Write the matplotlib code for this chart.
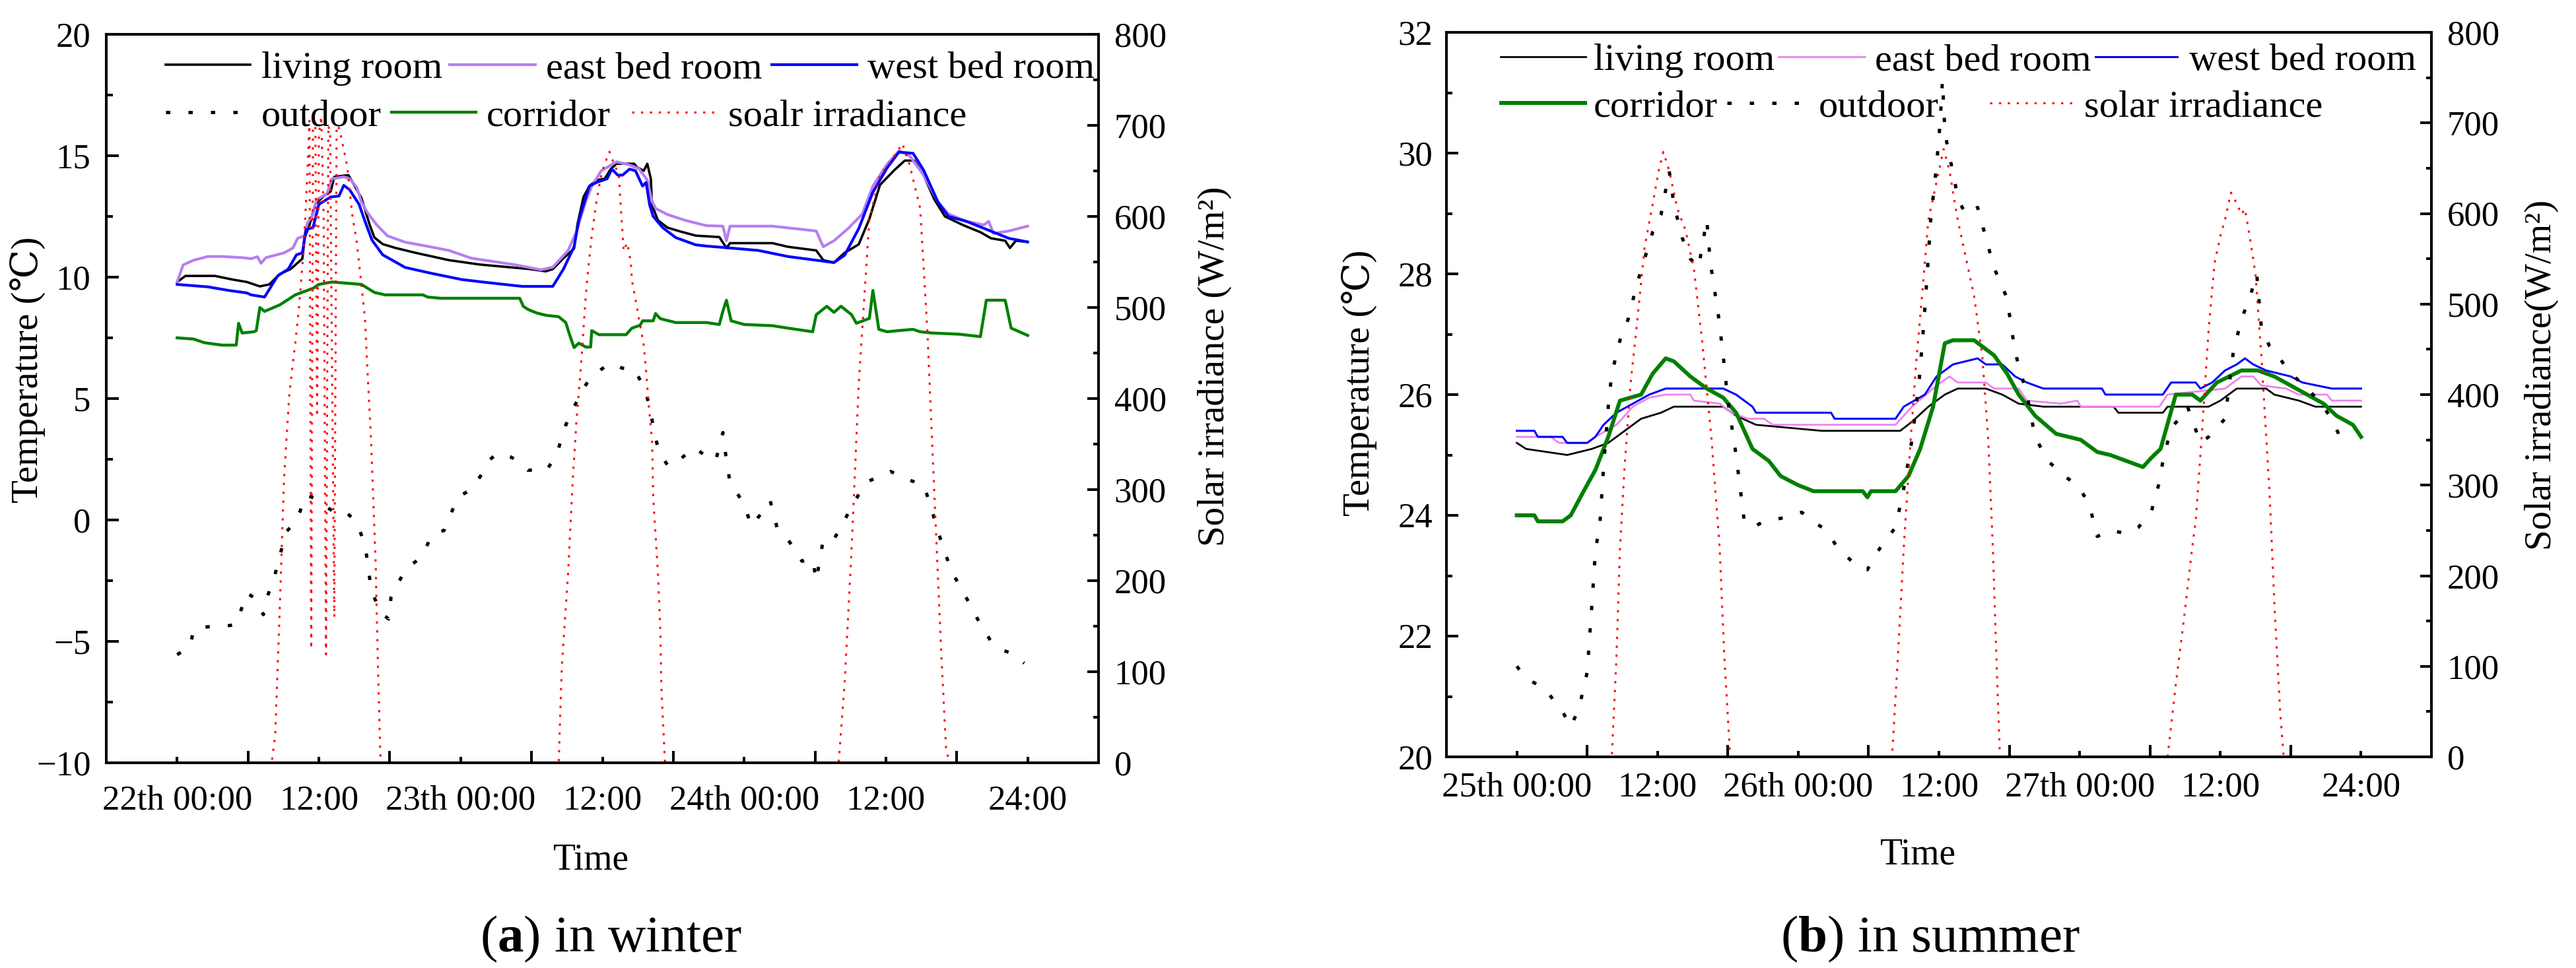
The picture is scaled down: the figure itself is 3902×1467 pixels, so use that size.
import matplotlib
matplotlib.use('Agg')
import matplotlib.pyplot as plt
from matplotlib.ticker import MultipleLocator, FixedLocator

plt.rcParams['font.family'] = ['Liberation Serif', 'DejaVu Serif']
plt.rcParams['mathtext.fontset'] = 'custom'
plt.rcParams['mathtext.rm'] = 'Liberation Serif'
plt.rcParams['mathtext.bf'] = 'Liberation Serif:bold'

# ---------------- data (hours from start, value) ----------------
TICK_HOURS = [0, 12, 24, 36, 48, 60, 72]
LONG_TICK_HOURS = [6, 18, 30, 42, 54, 66]
WINTER_XLABELS = ['22th 00:00', '12:00', '23th 00:00', '12:00', '24th 00:00', '12:00', '24:00']
SUMMER_XLABELS = ['25th 00:00', '12:00', '26th 00:00', '12:00', '27th 00:00', '12:00', '24:00']

W_LIVING = [(0, 9.8), (0.7, 10.05), (3.2, 10.05), (4.7, 9.9), (5.9, 9.8), (7.0, 9.62), (7.8, 9.7), (8.7, 10.13),
            (9.6, 10.33), (10.6, 10.76), (10.8, 11.63), (11.2, 12.15), (11.7, 13.0), (12.4, 13.34), (13.0, 13.53),
            (13.3, 14.13), (14.5, 14.2), (15.0, 13.78), (15.6, 13.26), (16.3, 12.15), (16.7, 11.63), (17.4, 11.36),
            (18.5, 11.2), (20.2, 11.0), (23.0, 10.7), (25.6, 10.52), (29.9, 10.33), (31.2, 10.24), (31.8, 10.33),
            (32.7, 10.78), (33.6, 11.17), (33.9, 12.2), (34.4, 13.3), (34.9, 13.75), (35.5, 14.0), (36.2, 14.05),
            (36.7, 14.45), (37.2, 14.67), (38.7, 14.67), (38.9, 14.53), (39.5, 14.38), (39.8, 14.67), (40.1, 14.05),
            (40.2, 12.97), (40.7, 12.34), (41.5, 12.04), (42.6, 11.88), (43.9, 11.71), (45.9, 11.65), (46.5, 11.2),
            (46.8, 11.4), (50.4, 11.4), (51.7, 11.25), (54.1, 11.1), (54.7, 10.7), (55.6, 10.6), (56.5, 11.0),
            (57.7, 11.35), (58.6, 12.4), (59.5, 13.8), (60.7, 14.4), (61.6, 14.8), (62.4, 14.8), (63.2, 14.2),
            (64.1, 13.2), (65.0, 12.5), (66.5, 12.15), (68.0, 11.85), (68.9, 11.6), (70.1, 11.5), (70.5, 11.2),
            (71.0, 11.5), (72, 11.45)]

W_EAST = [(0, 9.8), (0.5, 10.5), (1.4, 10.7), (2.6, 10.85), (3.8, 10.85), (5.6, 10.8), (6.26, 10.76), (6.8, 10.84),
          (7.1, 10.57), (7.5, 10.8), (9.05, 11.0), (9.8, 11.2), (10.2, 11.6), (10.8, 11.7), (11.0, 12.2), (11.5, 12.58),
          (11.8, 13.18), (12.7, 13.45), (13.1, 14.05), (14.1, 14.13), (14.6, 14.05), (15.2, 13.7), (15.6, 13.1),
          (16.1, 12.66), (16.9, 12.15), (17.8, 11.7), (19.3, 11.44), (21.2, 11.27), (23.0, 11.1), (24.9, 10.78),
          (28.6, 10.51), (30.8, 10.3), (31.8, 10.41), (33.1, 11.1), (33.8, 11.87), (34.6, 13.13), (35.1, 13.75),
          (35.9, 14.38), (37.2, 14.75), (38.3, 14.62), (39.1, 14.46), (39.8, 14.0), (40.2, 13.13), (40.5, 12.83),
          (41.5, 12.58), (43.0, 12.34), (44.8, 12.12), (46.2, 12.1), (46.5, 11.5), (46.8, 12.1), (50.4, 12.1),
          (54.1, 11.9), (54.7, 11.25), (55.6, 11.5), (56.8, 12.0), (58.0, 12.6), (58.9, 13.75), (60.1, 14.65),
          (61.1, 15.2), (62.0, 15.0), (63.2, 14.2), (64.4, 13.1), (65.3, 12.6), (66.8, 12.3), (68.3, 12.15),
          (68.7, 12.3), (69.1, 11.8), (70.4, 11.9), (72, 12.1)]

W_WEST = [(0, 9.7), (2.6, 9.6), (4.4, 9.45), (5.9, 9.35), (6.26, 9.27), (7.4, 9.18), (8.5, 10.05), (9.4, 10.33),
          (10.1, 10.92), (10.6, 11.0), (10.9, 11.96), (11.5, 12.04), (12.0, 13.0), (13.0, 13.3), (13.7, 13.34),
          (14.1, 13.78), (14.6, 13.6), (15.4, 13.0), (15.9, 12.3), (16.5, 11.52), (17.4, 10.92), (19.3, 10.4),
          (21.5, 10.16), (24.1, 9.9), (26.2, 9.78), (29.2, 9.62), (31.8, 9.62), (32.7, 10.33), (33.6, 11.25),
          (34.0, 12.34), (34.9, 13.75), (35.5, 13.9), (36.4, 14.05), (36.8, 14.45), (37.3, 14.2), (37.7, 14.2),
          (38.3, 14.45), (38.8, 14.38), (39.4, 13.75), (39.7, 13.9), (40.0, 12.97), (40.3, 12.5), (41.1, 12.04),
          (42.2, 11.63), (43.9, 11.33), (44.8, 11.28), (46.8, 11.2), (49.2, 11.1), (51.7, 10.85), (55.6, 10.6),
          (56.5, 10.9), (57.7, 12.0), (58.9, 13.5), (60.1, 14.5), (61.1, 15.15), (62.3, 15.1), (63.2, 14.4),
          (64.4, 13.1), (65.3, 12.5), (66.8, 12.3), (68.6, 11.95), (70.4, 11.6), (72, 11.45)]

W_CORRIDOR = [(0, 7.5), (1.4, 7.45), (2.3, 7.3), (3.8, 7.2), (5.0, 7.2), (5.2, 8.1), (5.5, 7.7), (6.5, 7.75),
              (6.7, 7.8), (7.0, 8.75), (7.4, 8.59), (8.7, 8.86), (10.0, 9.27), (11.5, 9.54), (12.0, 9.7), (13.1, 9.8),
              (15.6, 9.7), (16.7, 9.37), (17.6, 9.27), (20.8, 9.27), (21.2, 9.18), (22.3, 9.13), (29.0, 9.13),
              (29.3, 8.8), (29.7, 8.67), (30.4, 8.53), (31.2, 8.43), (32.3, 8.37), (32.9, 8.13), (33.2, 7.66),
              (33.6, 7.1), (34.0, 7.28), (34.6, 7.12), (35.0, 7.12), (35.1, 7.8), (35.7, 7.63), (38.0, 7.63),
              (38.5, 7.9), (39.2, 8.02), (39.4, 8.2), (40.3, 8.2), (40.5, 8.5), (40.9, 8.29), (42.2, 8.13),
              (44.8, 8.13), (45.9, 8.05), (46.2, 8.6), (46.5, 9.05), (46.9, 8.2), (48.0, 8.05), (50.4, 8.0),
              (51.7, 7.9), (53.8, 7.75), (54.1, 8.45), (55.0, 8.8), (55.6, 8.55), (56.2, 8.8), (57.1, 8.45),
              (57.5, 8.1), (58.6, 8.3), (58.9, 9.45), (59.4, 7.85), (60.1, 7.75), (61.1, 7.8), (62.3, 7.85),
              (62.9, 7.75), (63.9, 7.7), (66.2, 7.65), (68.0, 7.55), (68.5, 9.05), (70.1, 9.05), (70.6, 7.9),
              (72, 7.6)]

W_OUTDOOR = [(0, -5.55), (1.1, -5.2), (1.4, -4.5), (2.6, -4.4), (3.8, -4.4), (5.0, -4.3), (5.9, -3.0), (6.5, -3.2),
             (7.3, -3.9), (7.6, -3.2), (8.2, -2.4), (8.7, -1.47), (9.2, -0.5), (9.7, -0.25), (10.4, 0.35),
             (10.9, 1.03), (11.6, 0.9), (12.5, 0.6), (13.6, 0.2), (14.4, 0.27), (15.2, -0.08), (15.9, -1.03),
             (16.2, -2.0), (16.4, -2.85), (17.2, -3.8), (17.9, -4.08), (18.1, -3.2), (18.7, -2.6), (19.4, -2.0),
             (20.5, -1.6), (21.2, -1.0), (21.6, -0.6), (22.6, -0.43), (23.3, 0.4), (23.8, 0.95), (24.7, 1.2),
             (25.4, 1.6), (25.8, 1.9), (26.4, 2.45), (27.1, 2.75), (28.2, 2.6), (29.0, 2.4), (29.7, 2.05),
             (31.3, 2.05), (32.2, 2.8), (32.8, 3.8), (33.4, 4.45), (34.2, 5.25), (34.9, 5.8), (35.9, 6.2),
             (36.6, 6.45), (37.7, 6.25), (38.7, 6.2), (39.6, 5.4), (40.1, 4.45), (40.4, 3.5), (40.9, 2.7),
             (41.6, 2.2), (42.7, 2.55), (43.8, 2.98), (44.7, 2.65), (45.6, 2.45), (46.2, 3.6), (46.5, 2.45),
             (46.8, 1.55), (48.0, 0.65), (48.6, -0.25), (49.5, 0.3), (50.2, 0.8), (50.8, -0.35), (51.7, -0.8),
             (52.9, -1.7), (53.8, -1.6), (54.1, -2.5), (54.7, -0.8), (55.6, -0.8), (56.5, 0.0), (57.4, 0.8),
             (58.3, 1.55), (59.5, 1.8), (60.4, 2.0), (61.6, 1.7), (63.2, 1.45), (63.8, 0.55), (64.4, -0.45),
             (65.0, -1.35), (65.6, -2.15), (66.8, -3.2), (68.0, -4.3), (68.9, -5.0), (69.8, -5.35), (70.7, -5.5),
             (71.7, -5.9)]

W_SOLAR = [(0, 0), (8.0, 0), (8.3, 30), (8.7, 175), (9.05, 313), (9.5, 406), (10.0, 461), (10.3, 498), (10.7, 562),
           (11.0, 640), (11.2, 705), (11.35, 125), (11.5, 700), (11.7, 705), (11.85, 380), (12.0, 690), (12.2, 710),
           (12.4, 600), (12.6, 119), (12.8, 700), (12.95, 690), (13.1, 450), (13.3, 160), (13.5, 700), (13.75, 696),
           (14.0, 680), (14.4, 655), (14.8, 604), (15.2, 572), (15.6, 525), (15.9, 488), (16.1, 433), (16.4, 359),
           (16.6, 290), (16.8, 221), (17.0, 105), (17.2, 8), (17.4, 0), (32.3, 0), (32.5, 82), (32.6, 113),
           (33.1, 209), (33.5, 313), (33.8, 375), (34.2, 438), (34.5, 496), (34.7, 530), (35.1, 579), (35.5, 617),
           (35.9, 646), (36.2, 658), (36.6, 671), (37.0, 657), (37.4, 646), (37.5, 621), (37.7, 583), (37.8, 562),
           (38.1, 571), (38.4, 550), (38.5, 530), (38.8, 509), (39.2, 480), (39.5, 459), (39.7, 430), (39.9, 396),
           (40.2, 354), (40.3, 292), (40.5, 250), (40.7, 209), (40.9, 146), (41.0, 80), (41.3, 0), (56.0, 0),
           (56.5, 86), (57.1, 236), (57.7, 416), (58.6, 597), (59.5, 645), (60.4, 660), (61.4, 680), (62.0, 657),
           (62.9, 609), (63.5, 477), (64.1, 296), (64.7, 116), (65.1, 14), (65.4, 0), (72, 0)]

S_LIVING = [(0, 25.2), (0.8, 25.1), (4.3, 25.0), (6.4, 25.1), (7.8, 25.2), (9.2, 25.4), (10.6, 25.6), (12.3, 25.7),
            (13.4, 25.8), (17.6, 25.8), (18.7, 25.65), (20.4, 25.5), (26.0, 25.4), (32.7, 25.4), (33.7, 25.55),
            (35.1, 25.8), (36.5, 26.0), (37.6, 26.1), (40.0, 26.1), (41.4, 26.0), (42.8, 25.85), (44.9, 25.8),
            (50.9, 25.8), (51.3, 25.7), (55.1, 25.7), (55.5, 25.8), (59.0, 25.8), (60.0, 25.9), (61.4, 26.1),
            (63.9, 26.1), (64.6, 26.0), (66.7, 25.9), (68.1, 25.8), (72, 25.8)]

S_EAST = [(0, 25.3), (2.9, 25.3), (3.6, 25.2), (6.0, 25.2), (6.7, 25.3), (8.5, 25.5), (9.9, 25.8), (11.3, 25.95),
          (12.7, 26.0), (14.8, 26.0), (15.1, 25.9), (17.3, 25.85), (18.3, 25.7), (19.7, 25.6), (21.1, 25.6),
          (21.8, 25.5), (32.3, 25.5), (33.7, 25.8), (35.8, 26.15), (36.9, 26.3), (37.6, 26.2), (40.0, 26.2),
          (40.7, 26.1), (42.8, 26.1), (43.5, 25.9), (46.4, 25.85), (47.8, 25.9), (48.1, 25.8), (54.8, 25.8),
          (55.5, 26.0), (60.4, 26.1), (61.8, 26.3), (62.8, 26.3), (63.5, 26.15), (65.6, 26.1), (66.7, 26.0),
          (69.1, 26.0), (69.5, 25.9), (72, 25.9)]

S_WEST = [(0, 25.4), (1.5, 25.4), (1.8, 25.3), (3.9, 25.3), (4.3, 25.2), (6.0, 25.2), (6.7, 25.3), (7.4, 25.5),
          (8.5, 25.7), (9.9, 25.85), (11.3, 26.0), (12.7, 26.1), (17.6, 26.1), (18.7, 26.0), (20.1, 25.8),
          (20.4, 25.7), (26.8, 25.7), (27.1, 25.6), (32.3, 25.6), (33.0, 25.8), (34.8, 26.0), (35.8, 26.3),
          (37.2, 26.5), (39.3, 26.6), (40.0, 26.5), (41.4, 26.5), (42.5, 26.3), (43.5, 26.2), (44.9, 26.1),
          (49.9, 26.1), (50.2, 26.0), (55.1, 26.0), (55.8, 26.2), (57.9, 26.2), (58.3, 26.1), (59.3, 26.2),
          (60.4, 26.4), (61.4, 26.5), (62.1, 26.6), (62.8, 26.5), (63.9, 26.4), (66.0, 26.3), (67.0, 26.2),
          (69.5, 26.1), (72, 26.1)]

S_CORRIDOR = [(0, 24.0), (1.5, 24.0), (1.8, 23.9), (3.9, 23.9), (4.6, 24.0), (5.7, 24.4), (6.7, 24.75), (7.8, 25.3),
              (8.8, 25.9), (10.6, 26.0), (11.6, 26.35), (12.7, 26.6), (13.4, 26.55), (14.8, 26.3), (16.2, 26.1),
              (17.6, 25.95), (18.7, 25.7), (20.1, 25.1), (21.5, 24.9), (22.5, 24.65), (24.0, 24.5), (25.3, 24.4),
              (29.5, 24.4), (29.9, 24.3), (30.2, 24.4), (32.3, 24.4), (33.4, 24.65), (34.4, 25.1), (35.5, 25.8),
              (36.5, 26.85), (37.2, 26.9), (39.0, 26.9), (40.7, 26.65), (41.8, 26.35), (42.8, 26.0), (44.2, 25.65),
              (46.0, 25.35), (48.1, 25.25), (49.5, 25.05), (50.6, 25.0), (52.0, 24.9), (53.4, 24.8), (54.1, 24.95),
              (54.9, 25.1), (56.2, 26.0), (57.6, 26.0), (58.3, 25.9), (59.7, 26.2), (61.8, 26.4), (63.2, 26.4),
              (64.6, 26.3), (66.0, 26.15), (67.4, 26.0), (68.8, 25.85), (69.9, 25.65), (71.3, 25.5), (72, 25.3)]

S_OUTDOOR = [(0, 21.5), (0.8, 21.3), (2.2, 21.15), (2.9, 21.0), (3.9, 20.75), (4.6, 20.5), (5.3, 20.8), (6.0, 21.4),
             (6.4, 22.5), (6.7, 23.4), (7.1, 23.9), (7.4, 24.8), (7.8, 25.8), (8.1, 26.35), (8.8, 26.9), (9.5, 27.25),
             (10.2, 27.8), (10.9, 28.25), (11.6, 28.7), (12.3, 28.98), (13.0, 29.7), (13.4, 29.15), (14.1, 28.6),
             (14.8, 28.25), (15.5, 28.1), (16.2, 28.9), (16.5, 28.2), (17.2, 27.3), (17.6, 26.65), (18.0, 25.9),
             (18.7, 25.0), (19.4, 23.9), (20.1, 23.8), (21.1, 23.9), (22.5, 23.95), (24.3, 24.05), (25.3, 23.9),
             (26.4, 23.75), (27.4, 23.45), (28.8, 23.2), (29.9, 23.1), (30.6, 23.35), (31.3, 23.55), (32.3, 23.8),
             (33.0, 24.45), (33.7, 25.25), (34.3, 26.2), (34.6, 26.9), (34.9, 27.7), (35.3, 28.9), (35.8, 29.8),
             (36.1, 30.5), (36.3, 31.2), (36.5, 30.4), (36.8, 30.0), (37.2, 29.7), (37.6, 29.25), (38.3, 28.98),
             (39.3, 29.1), (40.0, 28.6), (40.7, 28.1), (41.8, 27.6), (42.5, 26.7), (43.5, 26.0), (44.2, 25.3),
             (45.3, 24.9), (46.7, 24.65), (47.8, 24.5), (48.8, 24.2), (49.5, 23.65), (50.6, 23.75), (52.0, 23.7),
             (53.0, 23.8), (54.1, 24.05), (54.8, 24.55), (55.1, 24.9), (55.8, 25.45), (56.5, 25.6), (57.2, 25.8),
             (58.3, 25.2), (59.0, 25.3), (59.7, 25.45), (60.4, 25.6), (61.1, 26.7), (61.8, 27.25), (62.5, 27.6),
             (63.1, 28.0), (63.5, 27.1), (64.2, 26.8), (64.9, 26.65), (65.6, 26.45), (66.3, 26.3), (67.4, 26.1),
             (68.4, 25.9), (69.5, 25.6), (70.2, 25.3), (71.2, 25.4)]

S_SOLAR = [(0, 0), (8.1, 0), (8.5, 110), (8.8, 231), (9.2, 322), (9.7, 412), (10.2, 472), (10.9, 563), (11.6, 611),
           (12.1, 647), (12.5, 668), (13.0, 647), (13.7, 605), (14.4, 581), (15.1, 539), (15.8, 460), (16.6, 352),
           (17.3, 231), (17.7, 110), (18.2, 0), (32.0, 0), (32.5, 110), (33.0, 231), (33.6, 352), (34.1, 442),
           (34.6, 515), (35.1, 593), (35.8, 635), (36.4, 671), (36.9, 647), (37.6, 593), (38.3, 551), (39.0, 509),
           (39.7, 442), (40.2, 352), (40.6, 231), (40.9, 110), (41.2, 0), (55.5, 0), (56.2, 80), (56.9, 153),
           (57.6, 231), (57.9, 261), (58.4, 352), (59.0, 472), (59.5, 545), (60.0, 575), (60.4, 593), (60.9, 623),
           (61.4, 611), (61.8, 599), (62.1, 605), (62.5, 575), (63.0, 533), (63.5, 442), (64.2, 291), (64.6, 171),
           (65.1, 50), (65.4, 0), (72, 0)]

# ---------------- figure ----------------
W, H = 3902, 1467
fig = plt.figure(figsize=(W / 100, H / 100), dpi=100)


def fx(x):
    return x / W


def fy(y):
    return 1 - y / H


def xy(pairs):
    return [p[0] for p in pairs], [p[1] for p in pairs]


def setup(ax, ax2, ylim, ymaj, ymin, xlabels, ylpad, ylen, xpad):
    ax.set_xlim(-6, 78)
    ax.set_ylim(*ylim)
    ax2.set_ylim(0, 800)
    ax.xaxis.set_major_locator(FixedLocator(TICK_HOURS))
    ax.xaxis.set_minor_locator(FixedLocator(LONG_TICK_HOURS))
    ax.set_xticklabels(xlabels)
    ax.yaxis.set_major_locator(MultipleLocator(ymaj))
    ax.yaxis.set_minor_locator(MultipleLocator(ymin))
    ax2.yaxis.set_major_locator(MultipleLocator(100))
    ax2.yaxis.set_minor_locator(MultipleLocator(50))
    ax.tick_params(axis='x', which='major', direction='in', length=6.5, width=2.9, pad=xpad,
                   labelsize=38, top=False)
    ax.tick_params(axis='x', which='minor', direction='in', length=13, width=2.9, top=False)
    ax.tick_params(axis='y', which='major', direction='in', length=ylen, width=2.9, pad=ylpad,
                   labelsize=38, right=False)
    ax.tick_params(axis='y', which='minor', direction='in', length=ylen / 2, width=2.9, right=False)
    ax2.tick_params(axis='y', which='major', direction='in', length=12, width=2.9, pad=17, labelsize=38)
    ax2.tick_params(axis='y', which='minor', direction='in', length=6, width=2.9)
    for a in (ax, ax2):
        for s in a.spines.values():
            s.set_linewidth(2.9)


LEG_FS = 42
LEG_PX = LEG_FS * 100 / 72


def add_leg(handle, label, hx, hlen, tx, y):
    fig.legend([handle], [label], loc='center left', bbox_to_anchor=(fx(hx), fy(y + 6)),
               bbox_transform=fig.transFigure, frameon=False, borderpad=0, borderaxespad=0,
               handlelength=hlen / LEG_PX, handletextpad=(tx - hx - hlen) / LEG_PX, fontsize=LEG_FS)


OUT_DASH = (0, (1.3, 5.5))
SUN_DASH = (0, (1.1, 3.3))

# ---- winter panel ----
axa = fig.add_axes([fx(161), fy(1156), fx(1664) - fx(161), fy(52) - fy(1156)])
axa2 = axa.twinx()
setup(axa, axa2, (-10, 20), 5, 2.5, WINTER_XLABELS, 17, 13.7, 24)

la1, = axa.plot(*xy(W_LIVING), color='black', lw=2.6)
la2, = axa.plot(*xy(W_EAST), color='#B67EF2', lw=3.0)
la3, = axa.plot(*xy(W_WEST), color='#0000FF', lw=3.0)
la4, = axa.plot(*xy(W_CORRIDOR), color='#008000', lw=3.2)
la5, = axa.plot(*xy(W_OUTDOOR), color='black', lw=3.6, linestyle=OUT_DASH)
la6, = axa2.plot(*xy(W_SOLAR), color='#FF0000', lw=2.2, linestyle=SUN_DASH)

add_leg(la1, 'living room', 251, 128, 396, 98)
add_leg(la2, 'east bed room', 681, 130, 827, 98)
add_leg(la3, 'west bed room', 1169, 129, 1314, 98)
add_leg(la5, 'outdoor', 251, 128, 396, 170)
add_leg(la4, 'corridor', 593, 128, 737, 170)
add_leg(la6, 'soalr irradiance', 957, 130, 1103, 170)

fig.text(fx(42), fy(560), 'Temperature (℃)', rotation=90, ha='center', va='center', fontsize=41)
fig.text(fx(1840), fy(555), 'Solar irradiance (W/m²)', rotation=90, ha='center', va='center', fontsize=41)
fig.text(fx(895), fy(1318), 'Time', ha='center', va='baseline', fontsize=40)
fig.text(fx(925), fy(1442), r'($\mathbf{a}$) in winter', ha='center', va='baseline', fontsize=57)

# ---- summer panel ----
axb = fig.add_axes([fx(2191), fy(1147), fx(3683) - fx(2191), fy(49) - fy(1147)])
axb2 = axb.twinx()
setup(axb, axb2, (20, 32), 2, 1, SUMMER_XLABELS, 15, 13, 16)

lb1, = axb.plot(*xy(S_LIVING), color='black', lw=2.0)
lb2, = axb.plot(*xy(S_EAST), color='#EE82EE', lw=2.0)
lb3, = axb.plot(*xy(S_WEST), color='#0000FF', lw=2.2)
lb4, = axb.plot(*xy(S_CORRIDOR), color='#008000', lw=4.3)
lb5, = axb.plot(*xy(S_OUTDOOR), color='black', lw=3.6, linestyle=OUT_DASH)
lb6, = axb2.plot(*xy(S_SOLAR), color='#FF0000', lw=2.2, linestyle=SUN_DASH)

add_leg(lb1, 'living room', 2273, 129, 2414, 86)
add_leg(lb2, 'east bed room', 2694, 131, 2840, 86)
add_leg(lb3, 'west bed room', 3174, 124, 3316, 86)
add_leg(lb4, 'corridor', 2274, 127, 2414, 156)
add_leg(lb5, 'outdoor', 2616, 128, 2755, 156)
add_leg(lb6, 'solar irradiance', 3014, 125, 3157, 156)

fig.text(fx(2059), fy(580), 'Temperature (℃)', rotation=90, ha='center', va='center', fontsize=41)
fig.text(fx(3850), fy(568), 'Solar irradiance(W/m²)', rotation=90, ha='center', va='center', fontsize=41)
fig.text(fx(2905), fy(1310), 'Time', ha='center', va='baseline', fontsize=40)
fig.text(fx(2924), fy(1442), r'($\mathbf{b}$) in summer', ha='center', va='baseline', fontsize=57)

fig.savefig('out.png', dpi=100)
